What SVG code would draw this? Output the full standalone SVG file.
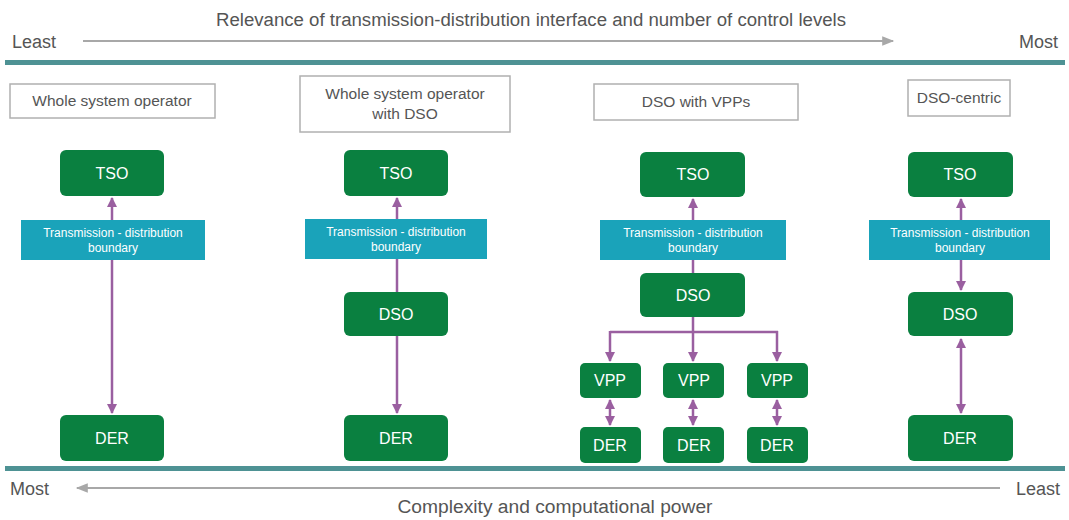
<svg xmlns="http://www.w3.org/2000/svg" width="1069" height="520" viewBox="0 0 1069 520">
<style>
text{font-family:"Liberation Sans",Arial,sans-serif}
.axis{font-size:18px;fill:#555}
.ttl{font-size:15.5px;fill:#555;text-anchor:middle}
.tbox{fill:#fff;stroke:#b0b0b0;stroke-width:1.5}
.g{fill:#0a8040}
.gt{font-size:16px;fill:#fff;text-anchor:middle}
.b{fill:#1aa3ba}
.bt{font-size:12px;fill:#fff;text-anchor:middle}
.band{fill:#4e9294}
.ax{stroke:#a8a8a8;stroke-width:2;fill:none}
.c{stroke:#9a5fa0;stroke-width:2.5;fill:none}
</style>
<defs>
<marker id="ah" viewBox="0 0 10 10" refX="9" refY="5" markerWidth="4" markerHeight="4" orient="auto-start-reverse"><path d="M0,0 L10,5 L0,10 z" fill="#9a5fa0"/></marker>
<marker id="ga" viewBox="0 0 10 10" refX="9" refY="5" markerWidth="7" markerHeight="6" orient="auto-start-reverse"><path d="M0,1 L10,5 L0,9 z" fill="#a8a8a8"/></marker>
</defs>
<g id="axes">
<text class="axis" x="531" y="26" text-anchor="middle" textLength="630" lengthAdjust="spacingAndGlyphs">Relevance of transmission-distribution interface and number of control levels</text>
<text class="axis" x="12" y="48">Least</text>
<text class="axis" x="1058" y="48" text-anchor="end">Most</text>
<line class="ax" x1="83" y1="41" x2="893" y2="41" marker-end="url(#ga)"/>
<rect class="band" x="5" y="60" width="1060" height="5"/>
<rect class="band" x="5" y="466" width="1060" height="5"/>
<text class="axis" x="10" y="495">Most</text>
<text class="axis" x="1060" y="495" text-anchor="end">Least</text>
<line class="ax" x1="1000" y1="488" x2="77" y2="488" marker-end="url(#ga)"/>
<text class="axis" x="555" y="513" text-anchor="middle" textLength="315" lengthAdjust="spacingAndGlyphs">Complexity and computational power</text>
</g>
<g id="connectors">
<line class="c" x1="112" y1="220" x2="112" y2="198" marker-end="url(#ah)"/>
<line class="c" x1="112" y1="260" x2="112" y2="413" marker-end="url(#ah)"/>
<line class="c" x1="397" y1="219" x2="397" y2="198" marker-end="url(#ah)"/>
<line class="c" x1="397" y1="259" x2="397" y2="292"/>
<line class="c" x1="397" y1="336" x2="397" y2="413" marker-end="url(#ah)"/>
<line class="c" x1="693" y1="220" x2="693" y2="199" marker-end="url(#ah)"/>
<line class="c" x1="693" y1="260" x2="693" y2="273"/>
<line class="c" x1="610" y1="332" x2="778" y2="332"/>
<line class="c" x1="610" y1="331" x2="610" y2="361" marker-end="url(#ah)"/>
<line class="c" x1="693" y1="317" x2="693" y2="361" marker-end="url(#ah)"/>
<line class="c" x1="777" y1="331" x2="777" y2="361" marker-end="url(#ah)"/>
<line class="c" x1="610" y1="400" x2="610" y2="425" marker-start="url(#ah)" marker-end="url(#ah)"/>
<line class="c" x1="693" y1="400" x2="693" y2="425" marker-start="url(#ah)" marker-end="url(#ah)"/>
<line class="c" x1="777" y1="400" x2="777" y2="425" marker-start="url(#ah)" marker-end="url(#ah)"/>
<line class="c" x1="961" y1="220" x2="961" y2="199" marker-end="url(#ah)"/>
<line class="c" x1="961" y1="260" x2="961" y2="290" marker-end="url(#ah)"/>
<line class="c" x1="961" y1="339" x2="961" y2="413" marker-start="url(#ah)" marker-end="url(#ah)"/>
</g>
<g id="col1-title"><rect class="tbox" x="10" y="84" width="205" height="34"/><text class="ttl" x="112" y="106">Whole system operator</text></g>
<g id="col1-tso"><rect class="g" x="60" y="150" width="104" height="46" rx="6"/><text class="gt" x="112" y="179">TSO</text></g>
<g id="col1-boundary"><rect class="b" x="21" y="220" width="184" height="40"/><text class="bt" x="113" y="237">Transmission - distribution</text><text class="bt" x="113" y="252">boundary</text></g>
<g id="col1-der"><rect class="g" x="60" y="415" width="104" height="46" rx="6"/><text class="gt" x="112" y="444">DER</text></g>

<g id="col2-title"><rect class="tbox" x="300" y="76" width="210" height="56"/><text class="ttl" x="405" y="99">Whole system operator</text><text class="ttl" x="405" y="119">with DSO</text></g>
<g id="col2-tso"><rect class="g" x="344" y="150" width="104" height="46" rx="6"/><text class="gt" x="396" y="179">TSO</text></g>
<g id="col2-boundary"><rect class="b" x="305" y="219" width="182" height="40"/><text class="bt" x="396" y="236">Transmission - distribution</text><text class="bt" x="396" y="251">boundary</text></g>
<g id="col2-dso"><rect class="g" x="344" y="292" width="104" height="44" rx="6"/><text class="gt" x="396" y="320">DSO</text></g>
<g id="col2-der"><rect class="g" x="344" y="415" width="104" height="46" rx="6"/><text class="gt" x="396" y="444">DER</text></g>

<g id="col3-title"><rect class="tbox" x="594" y="84" width="204" height="36"/><text class="ttl" x="696" y="107">DSO with VPPs</text></g>
<g id="col3-tso"><rect class="g" x="640" y="152" width="105" height="45" rx="6"/><text class="gt" x="693" y="180">TSO</text></g>
<g id="col3-boundary"><rect class="b" x="600" y="220" width="186" height="40"/><text class="bt" x="693" y="237">Transmission - distribution</text><text class="bt" x="693" y="252">boundary</text></g>
<g id="col3-dso"><rect class="g" x="640" y="273" width="105" height="44" rx="6"/><text class="gt" x="693" y="301">DSO</text></g>
<g id="col3-vpp1"><rect class="g" x="580" y="363" width="61" height="35" rx="5"/><text class="gt" x="610" y="386">VPP</text></g>
<g id="col3-vpp2"><rect class="g" x="663" y="363" width="61" height="35" rx="5"/><text class="gt" x="694" y="386">VPP</text></g>
<g id="col3-vpp3"><rect class="g" x="747" y="363" width="61" height="35" rx="5"/><text class="gt" x="777" y="386">VPP</text></g>
<g id="col3-der1"><rect class="g" x="580" y="427" width="61" height="36" rx="5"/><text class="gt" x="610" y="451">DER</text></g>
<g id="col3-der2"><rect class="g" x="663" y="427" width="61" height="36" rx="5"/><text class="gt" x="694" y="451">DER</text></g>
<g id="col3-der3"><rect class="g" x="747" y="427" width="61" height="36" rx="5"/><text class="gt" x="777" y="451">DER</text></g>

<g id="col4-title"><rect class="tbox" x="908" y="80" width="102" height="36"/><text class="ttl" x="959" y="103">DSO-centric</text></g>
<g id="col4-tso"><rect class="g" x="908" y="152" width="105" height="45" rx="6"/><text class="gt" x="960" y="180">TSO</text></g>
<g id="col4-boundary"><rect class="b" x="869" y="220" width="181" height="40"/><text class="bt" x="960" y="237">Transmission - distribution</text><text class="bt" x="960" y="252">boundary</text></g>
<g id="col4-dso"><rect class="g" x="908" y="292" width="105" height="44" rx="6"/><text class="gt" x="960" y="320">DSO</text></g>
<g id="col4-der"><rect class="g" x="908" y="415" width="105" height="46" rx="6"/><text class="gt" x="960" y="444">DER</text></g>
</svg>
